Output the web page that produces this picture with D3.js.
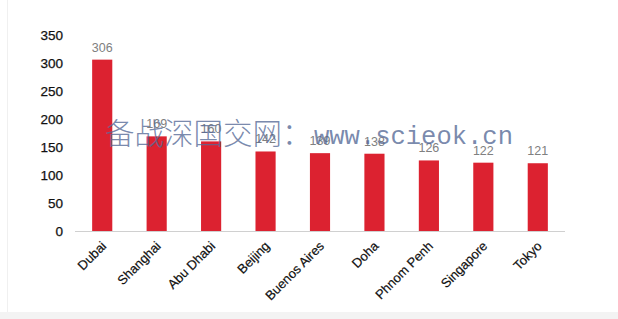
<!DOCTYPE html>
<html>
<head>
<meta charset="utf-8">
<script src="https://cdn.jsdelivr.net/npm/d3@7"></script>
<style>
  html, body { margin: 0; padding: 0; background: #fff; }
  svg { display: block; }
</style>
</head>
<body>
<script>
const cities = ["Dubai", "Shanghai", "Abu Dhabi", "Beijing", "Buenos Aires", "Doha", "Phnom Penh", "Singapore", "Tokyo"];
const values = [306, 169, 160, 142, 139, 138, 126, 122, 121];
const yTicks = [0, 50, 100, 150, 200, 250, 300, 350];

const width = 618, height = 319;
const svg = d3.select("body").append("svg")
    .attr("width", width)
    .attr("height", height);

// page frame: faint left rule and grey strip at bottom
svg.append("rect").attr("x", 0).attr("y", 312).attr("width", width).attr("height", 7).attr("fill", "#f3f3f3");
svg.append("line").attr("x1", 7.5).attr("x2", 7.5).attr("y1", 0).attr("y2", 312)
    .attr("stroke", "#f0f0f0");

const x = d3.scaleBand()
    .domain(cities)
    .range([75, 565])
    .paddingInner(0.63)
    .paddingOuter(0.315);

const y = d3.scaleLinear()
    .domain([0, 350])
    .range([231, 35]);

// y tick labels (no axis line)
svg.selectAll(".ytick")
    .data(yTicks)
    .enter()
    .append("text")
    .attr("class", "ytick")
    .attr("x", 63)
    .attr("y", d => y(d))
    .attr("dy", "0.36em")
    .attr("text-anchor", "end")
    .attr("font-family", "Liberation Sans, Arial, sans-serif")
    .attr("font-size", 13.5)
    .attr("fill", "#111")
    .attr("stroke", "#111")
    .attr("stroke-width", 0.25)
    .text(d => d);

// bars
svg.selectAll(".bar")
    .data(values)
    .enter()
    .append("rect")
    .attr("class", "bar")
    .attr("x", (d, i) => x(cities[i]))
    .attr("y", d => y(d))
    .attr("width", x.bandwidth())
    .attr("height", d => y(0) - y(d))
    .attr("fill", "#dc2230");

// baseline
svg.append("line")
    .attr("x1", 75).attr("x2", 565)
    .attr("y1", y(0) + 0.5).attr("y2", y(0) + 0.5)
    .attr("stroke", "#d0d0d0");

// value labels
svg.selectAll(".val")
    .data(values)
    .enter()
    .append("text")
    .attr("class", "val")
    .attr("x", (d, i) => x(cities[i]) + x.bandwidth() / 2)
    .attr("y", d => y(d) - 8)
    .attr("text-anchor", "middle")
    .attr("font-family", "Liberation Sans, Arial, sans-serif")
    .attr("font-size", 12.5)
    .attr("fill", "#808080")
    .text(d => d);

// category labels, rotated
svg.selectAll(".cat")
    .data(cities)
    .enter()
    .append("text")
    .attr("class", "cat")
    .attr("transform", d => "translate(" + (x(d) + x.bandwidth() / 2 - 2) + "," + 240 + ") rotate(-45)")
    .attr("dy", "0.75em")
    .attr("text-anchor", "end")
    .attr("font-family", "Liberation Sans, Arial, sans-serif")
    .attr("font-size", 13)
    .attr("fill", "#111")
    .attr("stroke", "#111")
    .attr("stroke-width", 0.2)
    .text(d => d);

// watermark
const wm = svg.append("text")
    .attr("x", 105)
    .attr("y", 144)
    .attr("fill", "#566a97")
    .attr("fill-opacity", 0.78);
wm.append("tspan")
    .attr("font-family", "Noto Sans CJK SC")
    .attr("font-weight", 300)
    .attr("font-size", 29.5)
    .text("备战深国交网：");
wm.append("tspan")
    .attr("x", 314)
    .attr("font-family", "Liberation Mono, DejaVu Sans Mono, monospace")
    .attr("font-size", 25.5)
    .text("www.scieok.cn");
</script>
</body>
</html>
